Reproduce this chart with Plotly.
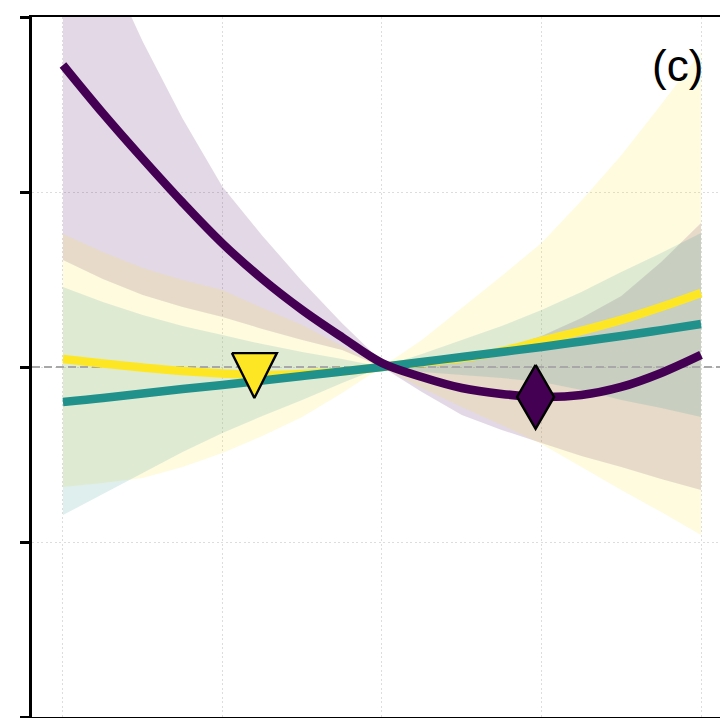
import plotly.graph_objects as go

# Evaluation grid
x_vals = [-2.0, -1.75, -1.5, -1.25, -1.0, -0.75, -0.5, -0.25, 0.0,
          0.25, 0.5, 0.75, 1.0, 1.25, 1.5, 1.75, 2.0]

# Fitted response curves
purple_mid = [1.726, 1.450, 1.190, 0.940, 0.706, 0.503, 0.326, 0.170, 0.023,
              -0.057, -0.120, -0.154, -0.171, -0.160, -0.114, -0.034, 0.069]
yellow_mid = [0.046, 0.020, -0.003, -0.023, -0.037, -0.046, -0.040, -0.026, 0.0,
              0.026, 0.051, 0.091, 0.149, 0.206, 0.269, 0.343, 0.423]
teal_mid = [-0.200, -0.177, -0.151, -0.126, -0.103, -0.077, -0.051, -0.026, 0.0,
            0.029, 0.057, 0.086, 0.114, 0.146, 0.177, 0.211, 0.246]

# Confidence bands
purple_hi = [2.850, 2.350, 1.860, 1.420, 1.030, 0.750, 0.490, 0.250, 0.030,
             0.017, 0.051, 0.103, 0.177, 0.280, 0.406, 0.600, 0.823]
purple_lo = [0.611, 0.503, 0.411, 0.343, 0.286, 0.217, 0.154, 0.097, 0.0,
             -0.143, -0.274, -0.360, -0.434, -0.509, -0.571, -0.640, -0.703]
yellow_hi = [0.760, 0.657, 0.566, 0.497, 0.440, 0.337, 0.240, 0.120, 0.0,
             0.154, 0.337, 0.520, 0.709, 0.950, 1.210, 1.500, 1.800]
yellow_lo = [-0.686, -0.663, -0.634, -0.571, -0.491, -0.394, -0.286, -0.149, 0.0,
             -0.120, -0.229, -0.331, -0.440, -0.571, -0.703, -0.829, -0.960]
teal_hi = [0.457, 0.371, 0.297, 0.234, 0.183, 0.131, 0.086, 0.046, 0.0,
           0.074, 0.154, 0.234, 0.326, 0.429, 0.543, 0.651, 0.766]
teal_lo = [-0.846, -0.726, -0.606, -0.486, -0.377, -0.280, -0.189, -0.091, 0.0,
           -0.029, -0.046, -0.063, -0.086, -0.131, -0.189, -0.234, -0.286]

# Extremum markers
tri_x, tri_y = [-0.80], [-0.049]
dia_x, dia_y = [0.963], [-0.171]

PURPLE = "#440154"
YELLOW = "#fde725"
TEAL = "#21918c"

X_RANGE = [-2.194, 2.119]
Y_RANGE = [-2.0, 2.0]
W, H = 720, 718
M = dict(l=32, r=0, t=17, b=1)
px_x = (W - M["l"] - M["r"]) / (X_RANGE[1] - X_RANGE[0])
px_y = (H - M["t"] - M["b"]) / (Y_RANGE[1] - Y_RANGE[0])


def rgba(hex_color, a):
    h = hex_color.lstrip("#")
    r, g, b = int(h[0:2], 16), int(h[2:4], 16), int(h[4:6], 16)
    return f"rgba({r},{g},{b},{a})"


SPLINE = dict(shape="spline", smoothing=1.0)

fig = go.Figure()

# Shaded bands (straight segments between grid points keep the
# off-axis part of the purple band from bending the visible edge)
for lo, hi, col in [(purple_lo, purple_hi, PURPLE),
                    (yellow_lo, yellow_hi, YELLOW),
                    (teal_lo, teal_hi, TEAL)]:
    fig.add_trace(go.Scatter(x=x_vals, y=lo, mode="lines",
                             line=dict(width=0, shape="linear"),
                             hoverinfo="skip", showlegend=False))
    fig.add_trace(go.Scatter(x=x_vals, y=hi, mode="lines", fill="tonexty",
                             fillcolor=rgba(col, 0.15),
                             line=dict(width=0, shape="linear"),
                             hoverinfo="skip", showlegend=False))

# Zero reference line
fig.add_trace(go.Scatter(x=X_RANGE, y=[0, 0], mode="lines",
                         line=dict(color="#a8a8a8", width=2.2, dash="8px,4px"),
                         hoverinfo="skip", showlegend=False))

# Mean curves
for mid, col in [(yellow_mid, YELLOW), (teal_mid, TEAL), (purple_mid, PURPLE)]:
    fig.add_trace(go.Scatter(x=x_vals, y=mid, mode="lines",
                             line=dict(color=col, width=8.5, **SPLINE),
                             showlegend=False))


def polygon(cx, cy, offsets):
    xs = [cx + dx / px_x for dx, dy in offsets]
    ys = [cy + dy / px_y for dx, dy in offsets]
    return xs + xs[:1], ys + ys[:1]


# Downward triangle at the yellow minimum (45 x 45 px)
tx, ty = polygon(tri_x[0], tri_y[0], [(-22.5, 22.5), (22.5, 22.5), (0, -22.5)])
fig.add_trace(go.Scatter(x=tx, y=ty, mode="lines", fill="toself", fillcolor=YELLOW,
                         line=dict(color="black", width=2.4), showlegend=False))

# Thin diamond at the purple minimum (37 x 64 px)
dx_, dy_ = polygon(dia_x[0], dia_y[0], [(0, 32), (18.5, 0), (0, -32), (-18.5, 0)])
fig.add_trace(go.Scatter(x=dx_, y=dy_, mode="lines", fill="toself", fillcolor=PURPLE,
                         line=dict(color="black", width=2.4), showlegend=False))

fig.add_annotation(text="(c)", xref="paper", yref="paper", x=0.978, y=0.93,
                   xanchor="right", yanchor="middle", showarrow=False,
                   font=dict(family="Liberation Sans", size=44, color="black"))

GRID = dict(showgrid=True, gridcolor="#dddddd", gridwidth=1.3, griddash="2px,2.5px")

fig.update_xaxes(range=X_RANGE, tickvals=[-2, -1, 0, 1, 2], showticklabels=False,
                 ticks="", zeroline=False, showline=True, linecolor="black",
                 linewidth=2, mirror=True, **GRID)
fig.update_yaxes(range=Y_RANGE, tickvals=[-2, -1, 0, 1, 2], showticklabels=False,
                 ticks="outside", ticklen=9, tickwidth=2.5, tickcolor="black",
                 zeroline=False, showline=True, linecolor="black", linewidth=3,
                 mirror=False, **GRID)

fig.update_layout(width=W, height=H, margin=M, plot_bgcolor="white",
                  paper_bgcolor="white", showlegend=False)

fig.write_html("out.html")
